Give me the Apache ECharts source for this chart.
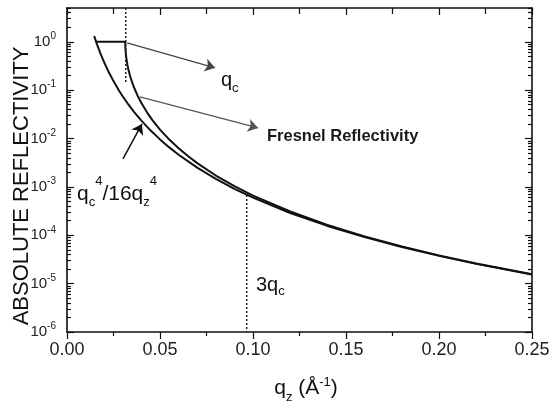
<!DOCTYPE html>
<html><head><meta charset="utf-8">
<script src="https://cdn.jsdelivr.net/npm/echarts@6/dist/echarts.min.js"></script>
<style>html,body{margin:0;padding:0;background:#fff}#c{width:554px;height:406px}</style>
</head><body><div id="c"></div>
<script>
// ---- data ----
const fresnelQ = [0.0156, 0.0200, 0.0250, 0.0300, 0.0313, 0.0314, 0.0316, 0.0320, 0.0325, 0.0330, 0.0340, 0.0350, 0.0360, 0.0380, 0.0400, 0.0430, 0.0460, 0.0500, 0.0550, 0.0600, 0.0650, 0.0700, 0.0800, 0.0900, 0.1000, 0.1200, 0.1400, 0.1600, 0.1800, 0.2000, 0.2200, 0.2500];
const fresnelR = [1.0, 1.0, 1.0, 1.0, 1.0, 0.726, 0.575, 0.430, 0.332, 0.269, 0.192, 0.146, 0.115, 0.0763, 0.0541, 0.0348, 0.0238, 0.0153, 0.00951, 0.00628, 0.00434, 0.00310, 0.00172, 0.00104, 6.6e-4, 3.1e-4, 1.64e-4, 9.5e-5, 5.9e-5, 3.84e-5, 2.61e-5, 1.56e-5];
const asymQ = [0.0146, 0.016, 0.018, 0.020, 0.022, 0.025, 0.028, 0.030, 0.033, 0.036, 0.040, 0.045, 0.050, 0.055, 0.060, 0.070, 0.080, 0.090, 0.100, 0.120, 0.140, 0.160, 0.180, 0.200, 0.220, 0.250];
const asymR = [1.32, 0.916, 0.572, 0.375, 0.256, 0.154, 0.0976, 0.0741, 0.0506, 0.0357, 0.0234, 0.0146, 0.0096, 0.00656, 0.00463, 0.0025, 0.00147, 9.1e-4, 6.0e-4, 2.89e-4, 1.56e-4, 9.2e-5, 5.7e-5, 3.75e-5, 2.56e-5, 1.54e-5];
const qcMarkerQ = [0.0316, 0.0316];
const qcMarkerR = [5, 0.14];
const threeQcQ = [0.0966, 0.0966];
const threeQcR = [6.8e-4, 1e-6];
const yDecades = [1e-6, 1e-5, 1e-4, 1e-3, 1e-2, 1e-1, 1];
const xMin = 0, xMax = 0.25, xStep = 0.05;
const yMin = 1e-6, yMax = 5;
// annotation arrows [from, to] in data units
const arrowQc = [[0.0323, 0.95], [0.0796, 0.29]];
const arrowFresnel = [[0.0392, 0.0727], [0.1027, 0.0166]];
const arrowAsym = [[0.0301, 0.00378], [0.0403, 0.020]];

// ---- build ----
const FONT = "'Liberation Sans', Arial, Helvetica, sans-serif";
const INK = '#111';
const yMinor = [];
yDecades.forEach(d => { for (let m = 2; m <= 9; m++) { const v = m * d; if (v <= yMax) yMinor.push(v); } });
const pairs = (a, b) => a.map((v, i) => [v, b[i]]);

function yAx(pos, major, withLabels) {
  const ax = {
    type: 'log', logBase: 10, position: pos, min: yMin, max: yMax,
    axisLine: { show: major, onZero: false, lineStyle: { color: INK, width: 1.6 } },
    axisTick: { show: true, inside: true, length: major ? 7 : 4,
      customValues: major ? yDecades : yMinor, lineStyle: { color: INK, width: 1.2 } },
    minorTick: { show: false }, splitLine: { show: false },
    axisLabel: { show: false }
  };
  if (withLabels) {
    ax.axisLabel = {
      show: true, customValues: yDecades, margin: 11, padding: [0, 0, 10, 0],
      formatter: v => '{b|10}{s|' + Math.round(Math.log10(v)) + '}',
      rich: {
        b: { fontSize: 15, lineHeight: 15, padding: [5, 0, 0, 0], verticalAlign: 'top', fontFamily: FONT, color: '#222' },
        s: { fontSize: 10, lineHeight: 10, padding: [2, 0, 0, 0], verticalAlign: 'top', fontFamily: FONT, color: '#222' }
      }
    };
    ax.name = 'ABSOLUTE REFLECTIVITY';
    ax.nameLocation = 'middle';
    ax.nameGap = 34;
    ax.nameMoveOverlap = false;
    ax.nameTextStyle = { fontSize: 22, fontFamily: FONT, color: INK, padding: [0, 32, 0, 0] };
  }
  return ax;
}

const chart = echarts.init(document.getElementById('c'), null, { renderer: 'canvas' });
chart.setOption({
  animation: false,
  backgroundColor: '#fff',
  grid: { left: 67, right: 22, top: 8, bottom: 74, containLabel: false, outerBoundsMode: 'none' },
  xAxis: [
    {
      type: 'value', position: 'bottom', min: xMin, max: xMax, interval: xStep,
      axisLine: { onZero: false, lineStyle: { color: INK, width: 1.6 } },
      axisTick: { inside: false, length: 7, lineStyle: { color: INK, width: 1.2 } },
      minorTick: { show: true, splitNumber: 2, length: 4, lineStyle: { color: INK, width: 1.2 } },
      splitLine: { show: false },
      axisLabel: { margin: 9, fontSize: 18, fontFamily: FONT, color: '#222', formatter: v => v.toFixed(2) },
      name: '{b|q}{s|z}{b| (Å}{p|-1}{b|)}', nameLocation: 'middle', nameGap: 44, nameMoveOverlap: false,
      nameTextStyle: {
        padding: [0, 0, 0, 13],
        rich: {
          b: { fontSize: 21, lineHeight: 21, padding: [1.5, 0, 0, 0], verticalAlign: 'top', fontFamily: FONT, color: INK },
          s: { fontSize: 13, lineHeight: 13, padding: [15, 0, 0, 0], verticalAlign: 'top', fontFamily: FONT, color: INK },
          p: { fontSize: 13, lineHeight: 13, padding: [0, 0, 0, 0], verticalAlign: 'top', fontFamily: FONT, color: INK }
        }
      }
    },
    {
      type: 'value', position: 'top', min: xMin, max: xMax, interval: xStep,
      axisLine: { onZero: false, lineStyle: { color: INK, width: 1.6 } },
      axisTick: { inside: true, length: 7, lineStyle: { color: INK, width: 1.2 } },
      minorTick: { show: true, splitNumber: 2, length: 6, lineStyle: { color: INK, width: 1.2 } },
      splitLine: { show: false }, axisLabel: { show: false }
    }
  ],
  yAxis: [yAx('left', true, true), yAx('left', false, false), yAx('right', true, false), yAx('right', false, false)],
  series: [
    {
      name: 'Fresnel Reflectivity', type: 'line', xAxisIndex: 0, yAxisIndex: 0,
      data: pairs(fresnelQ, fresnelR), symbol: 'none', smooth: false,
      lineStyle: { color: INK, width: 2 },
      markLine: {
        silent: true, animation: false, symbol: ['none', 'arrow'], symbolSize: 10,
        label: { show: false },
        data: [
          [{ coord: arrowQc[0], lineStyle: { color: '#444', width: 1.2, type: 'solid', curveness: 0.13 } }, { coord: arrowQc[1] }],
          [{ coord: arrowFresnel[0], lineStyle: { color: '#555', width: 1.1, type: 'solid', curveness: 0 } }, { coord: arrowFresnel[1] }],
          [{ coord: arrowAsym[0], lineStyle: { color: '#111', width: 1.5, type: 'solid', curveness: 0 } }, { coord: arrowAsym[1] }]
        ]
      }
    },
    {
      name: 'qc^4/16qz^4', type: 'line', xAxisIndex: 0, yAxisIndex: 0,
      data: pairs(asymQ, asymR), symbol: 'none', smooth: false,
      lineStyle: { color: INK, width: 2 }
    },
    {
      name: 'qc', type: 'line', data: pairs(qcMarkerQ, qcMarkerR), symbol: 'none',
      lineStyle: { color: '#222', width: 1.5, type: [2, 2] }
    },
    {
      name: '3qc', type: 'line', data: pairs(threeQcQ, threeQcR), symbol: 'none',
      lineStyle: { color: '#222', width: 1.5, type: [2, 2] }
    }
  ],
  graphic: [
    {
      type: 'text', x: 221, y: 70, silent: true,
      style: {
        text: '{b|q}{s|c}', align: 'left', verticalAlign: 'top',
        rich: {
          b: { fontSize: 20, lineHeight: 20, padding: [0, 0, 0, 0], verticalAlign: 'top', fontFamily: FONT, fill: INK },
          s: { fontSize: 13, lineHeight: 13, padding: [12, 0, 0, 0], verticalAlign: 'top', fontFamily: FONT, fill: INK }
        }
      }
    },
    {
      type: 'text', x: 267, y: 136, silent: true,
      style: { text: 'Fresnel Reflectivity', align: 'left', verticalAlign: 'middle',
        fontSize: 16.5, fontWeight: 'bold', fontFamily: FONT, fill: '#1a1a1a' }
    },
    {
      type: 'text', x: 77, y: 175, silent: true,
      style: {
        text: '{b|q}{s|c}{p|4}{b|/16q}{s|z}{p|4}', align: 'left', verticalAlign: 'top',
        rich: {
          b: { fontSize: 21, lineHeight: 21, padding: [9, 0, 0, 0], verticalAlign: 'top', fontFamily: FONT, fill: INK },
          s: { fontSize: 13, lineHeight: 13, padding: [21, 0, 0, 0], verticalAlign: 'top', fontFamily: FONT, fill: INK },
          p: { fontSize: 13, lineHeight: 13, padding: [0, 0, 0, 0], verticalAlign: 'top', fontFamily: FONT, fill: INK }
        }
      }
    },
    {
      type: 'text', x: 256, y: 275, silent: true,
      style: {
        text: '{b|3q}{s|c}', align: 'left', verticalAlign: 'top',
        rich: {
          b: { fontSize: 20, lineHeight: 20, padding: [0, 0, 0, 0], verticalAlign: 'top', fontFamily: FONT, fill: INK },
          s: { fontSize: 13, lineHeight: 13, padding: [10, 0, 0, 0], verticalAlign: 'top', fontFamily: FONT, fill: INK }
        }
      }
    }
  ]
});
</script>
</body></html>
